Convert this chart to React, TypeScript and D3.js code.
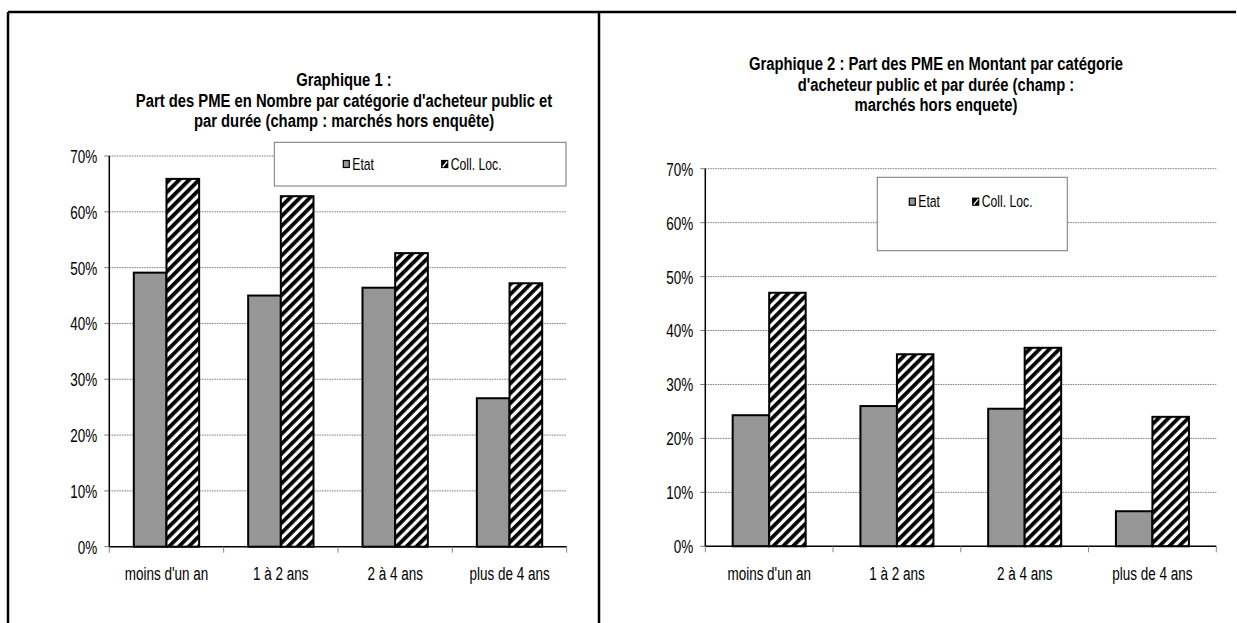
import React from "react";
import * as d3 from "d3";

const categories = ["moins d'un an", "1 à 2 ans", "2 à 4 ans", "plus de 4 ans"];
const seriesNames = ["Etat", "Coll. Loc."];
const etat1 = [49.1, 45.0, 46.4, 26.6];
const coll1 = [65.9, 62.8, 52.6, 47.2];
const etat2 = [24.3, 26.0, 25.5, 6.5];
const coll2 = [47.0, 35.6, 36.8, 24.0];
const yTicks = [0, 10, 20, 30, 40, 50, 60, 70];
const title1 = [
  "Graphique 1 :",
  "Part  des PME en Nombre par catégorie d'acheteur public et",
  "par durée (champ : marchés hors enquête)",
];
const title2 = [
  "Graphique 2 : Part des PME en Montant par catégorie",
  "d'acheteur public et par durée (champ :",
  "marchés hors enquete)",
];

const FONT = "'Liberation Sans', Arial, Helvetica, sans-serif";

function CText(props: any) {
  const { x, y, sx = 0.71, size = 19, anchor = "start", weight = "normal", baseline, children } = props;
  return (
    <text
      transform={`translate(${x},${y}) scale(${sx},1)`}
      fontSize={size}
      fontFamily={FONT}
      fontWeight={weight}
      textAnchor={anchor}
      dominantBaseline={baseline}
      fill="#000"
    >
      {children}
    </text>
  );
}

function Panel(props: any) {
  const { left, right, top, bottom, etat, coll, title, titleX, titleY, legend, pid } = props;
  const y = d3.scaleLinear().domain([0, 70]).range([bottom, top]);
  const x = d3
    .scaleBand<string>()
    .domain(categories)
    .range([left, right])
    .paddingInner(1.5 / 3.5)
    .paddingOuter(0.75 / 3.5);
  const xs = d3.scaleBand<string>().domain(seriesNames).range([0, x.bandwidth()]);
  const step = x.step();
  const boundaries = d3.range(categories.length + 1).map((i) => left + i * step);
  const values = [etat, coll];
  const fills = ["#969696", `url(#hatch${pid})`];
  return (
    <g>
      <defs>
        <pattern
          id={`hatch${pid}`}
          patternUnits="userSpaceOnUse"
          width={7}
          height={7}
          patternTransform="rotate(45)"
        >
          <rect width={7} height={7} fill="#fff" />
          <rect width={3.8} height={7} fill="#000" />
        </pattern>
      </defs>
      {title.map((t: string, i: number) => (
        <CText key={i} x={titleX} y={titleY + i * 20.5} size={19} sx={0.78} weight="bold" anchor="middle">
          {t}
        </CText>
      ))}
      {yTicks.map((v) => (
        <g key={v}>
          {v > 0 && (
            <line x1={left} x2={right} y1={y(v)} y2={y(v)} stroke="#555" strokeWidth={0.8} strokeDasharray="1.5,1" />
          )}
          <line x1={left - 5} x2={left} y1={y(v)} y2={y(v)} stroke="#555" strokeWidth={0.8} />
          <CText x={left - 12} y={y(v)} anchor="end" baseline="central">
            {`${v}%`}
          </CText>
        </g>
      ))}
      {legend && (
        <g>
          <rect x={legend.x} y={legend.y} width={legend.w} height={legend.h} fill="#fff" stroke="#777" strokeWidth={1} />
          {seriesNames.map((s, i) => (
            <g key={s}>
              <rect
                x={legend.items[i]}
                y={legend.ty - 3.5}
                width={6}
                height={7}
                fill={i === 0 ? "#969696" : "#000"}
                stroke="#000"
                strokeWidth={1.2}
              />
              {i === 1 && (
                <path
                  d={`M${legend.items[i] + 1},${legend.ty + 3} L${legend.items[i] + 5.5},${legend.ty - 2.5}`}
                  stroke="#fff"
                  strokeWidth={1.3}
                />
              )}
              <CText x={legend.items[i] + 9} y={legend.ty} size={16.5} sx={0.74} baseline="central">
                {s}
              </CText>
            </g>
          ))}
        </g>
      )}
      {categories.map((c, ci) => (
        <g key={c}>
          {values.map((vals: number[], si: number) => (
            <rect
              key={si}
              x={(x(c) as number) + (xs(seriesNames[si]) as number)}
              y={y(vals[ci])}
              width={xs.bandwidth()}
              height={y(0) - y(vals[ci])}
              fill={fills[si]}
              stroke="#000"
              strokeWidth={2}
            />
          ))}
          <CText x={(x(c) as number) + x.bandwidth() / 2} y={bottom + 33.5} anchor="middle">
            {c}
          </CText>
        </g>
      ))}
      <line x1={left} x2={left} y1={top} y2={bottom} stroke="#000" strokeWidth={1.5} />
      <line x1={left} x2={right} y1={bottom} y2={bottom} stroke="#000" strokeWidth={1.5} />
      {boundaries.map((bx, i) => (
        <line key={i} x1={bx} x2={bx} y1={bottom} y2={bottom + 6} stroke="#888" strokeWidth={1} />
      ))}
    </g>
  );
}

export default function App() {
  return (
    <svg
      width={1237}
      height={623}
      viewBox="0 0 1237 623"
      style={{ position: "absolute", left: 0, top: 0, display: "block", background: "#fff" }}
    >
      <rect x={0} y={0} width={1237} height={623} fill="#fff" />
      <Panel
        pid={1}
        left={109.3}
        right={566.7}
        top={156}
        bottom={546.7}
        etat={etat1}
        coll={coll1}
        title={title1}
        titleX={344}
        titleY={86}
        legend={{ x: 274.3, y: 142.3, w: 291.7, h: 43.7, ty: 164, items: [343.3, 441.7] }}
      />
      <Panel
        pid={2}
        left={705.3}
        right={1216.3}
        top={168.7}
        bottom={546.3}
        etat={etat2}
        coll={coll2}
        title={title2}
        titleX={936}
        titleY={70}
        legend={{ x: 877.3, y: 177.3, w: 190, h: 73.4, ty: 201.7, items: [909.3, 972.7] }}
      />
      <line x1={8} x2={1236} y1={12} y2={12} stroke="#000" strokeWidth={2.5} />
      <line x1={8} x2={8} y1={12} y2={623} stroke="#000" strokeWidth={2.5} />
      <line x1={599} x2={599} y1={12} y2={623} stroke="#000" strokeWidth={2.5} />
    </svg>
  );
}
